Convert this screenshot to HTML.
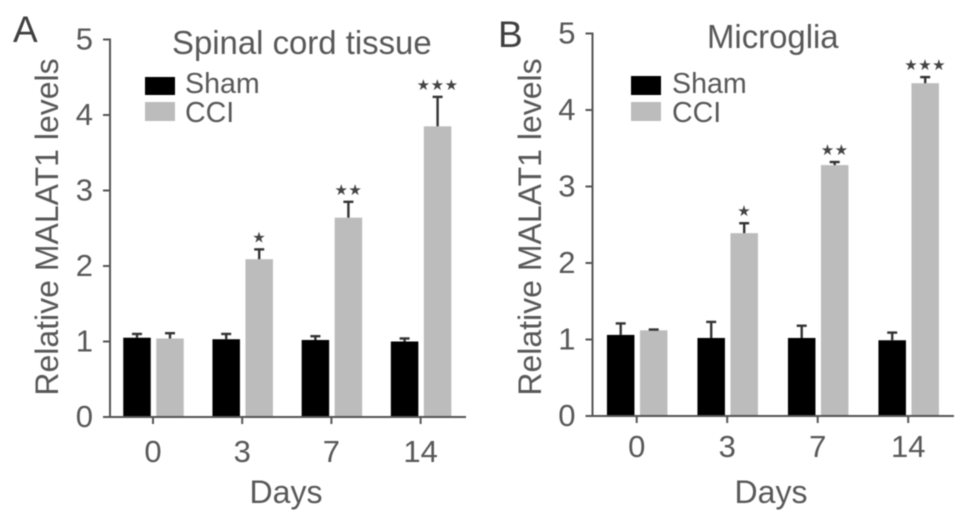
<!DOCTYPE html>
<html lang="en">
<head>
<meta charset="utf-8">
<title>Relative MALAT1 levels</title>
<style>
html,body{margin:0;padding:0;background:#fff;width:969px;height:522px;overflow:hidden}
svg{display:block;filter:blur(0.6px)}
text{font-family:"Liberation Sans",Arial,sans-serif;fill:#585858}
.stars{font-family:"DejaVu Sans",sans-serif;fill:#444}
</style>
</head>
<body>
<svg id="figure" width="969" height="522" viewBox="0 0 969 522" xmlns="http://www.w3.org/2000/svg">
  <rect width="969" height="522" fill="#fff"/>

  <g id="panel-a">
    <text x="13" y="42" font-size="37" style="fill:#404040">A</text>
    <text x="172" y="54" font-size="32.9">Spinal cord tissue</text>
    <text transform="translate(58,227) rotate(-90)" text-anchor="middle" font-size="32">Relative MALAT1 levels</text>
    <text x="286" y="503" text-anchor="middle" font-size="32">Days</text>
    <rect x="145" y="77" width="30" height="18" fill="#000"/>
    <rect x="145" y="102" width="30" height="19" fill="#bcbcbc"/>
    <text x="185" y="93" font-size="28.6">Sham</text>
    <text x="185" y="122" font-size="28.6">CCI</text>
  </g>

  <g id="panel-b">
    <text x="498" y="47" font-size="37" style="fill:#404040">B</text>
    <text x="707" y="48" font-size="32.9">Microglia</text>
    <text transform="translate(541,227) rotate(-90)" text-anchor="middle" font-size="32">Relative MALAT1 levels</text>
    <text x="771" y="503" text-anchor="middle" font-size="32">Days</text>
    <rect x="631" y="76" width="30" height="19" fill="#000"/>
    <rect x="631" y="102" width="30" height="19" fill="#bcbcbc"/>
    <text x="672" y="93" font-size="28.6">Sham</text>
    <text x="672" y="122" font-size="28.6">CCI</text>
  </g>
</svg>

<script>
var categories = ["0", "3", "7", "14"];
var yTickLabels = [0, 1, 2, 3, 4, 5];
var significance = ["", "★", "★★", "★★★"];

var shamA = [1.05, 1.03, 1.02, 1.00];
var shamErrA = [0.05, 0.07, 0.05, 0.04];
var cciA = [1.04, 2.09, 2.64, 3.85];
var cciErrA = [0.07, 0.13, 0.21, 0.39];

var shamB = [1.06, 1.02, 1.02, 0.99];
var shamErrB = [0.15, 0.21, 0.16, 0.10];
var cciB = [1.12, 2.39, 3.28, 4.35];
var cciErrB = [0.01, 0.13, 0.04, 0.08];

var SVG_NS = "http://www.w3.org/2000/svg";

function make(parent, tag, attrs) {
  var el = document.createElementNS(SVG_NS, tag);
  for (var k in attrs) { el.setAttribute(k, attrs[k]); }
  parent.appendChild(el);
  return el;
}

function drawPanel(id, layout, sham, shamErr, cci, cciErr) {
  var root = document.getElementById(id);
  function y(v) { return layout.y0 - v * layout.unit; }
  function x(i) { return layout.x0 + i * layout.step; }
  var barWidth = 27.5;
  var axisColor = "#555";

  function drawBar(value, err, center, color, name) {
    var bar = make(root, "rect", { x: center - barWidth / 2, y: y(value), width: barWidth, height: y(0) - y(value), fill: color });
    
    
    var stem = make(root, "line", { x1: center, x2: center, y1: y(value), y2: y(value + err), stroke: "#333", "stroke-width": 2.4 });
    
    
    var cap = make(root, "line", { x1: center - 5, x2: center + 5, y1: y(value + err), y2: y(value + err), stroke: "#333", "stroke-width": 2.4 });
    
    
  }

  categories.forEach(function (cat, i) {
    drawBar(sham[i], shamErr[i], x(i) - 16, "#000", id + "-sham-bar-day-" + cat);
    drawBar(cci[i], cciErr[i], x(i) + 17, "#bcbcbc", id + "-cci-bar-day-" + cat);
    if (significance[i]) {
      var star = make(root, "text", { x: x(i) + 17, y: y(cci[i] + cciErr[i]) - 7, "text-anchor": "middle", "font-size": 15, "letter-spacing": 0.5, "class": "stars" });
      
      
      star.textContent = significance[i];
    }
  });

  var yAxis = make(root, "line", { x1: layout.axisX, x2: layout.axisX, y1: y(5) - 1, y2: y(0), stroke: axisColor, "stroke-width": 2 });
  
  
  var xAxis = make(root, "line", { x1: layout.axisX - 7, x2: layout.axisEnd, y1: y(0), y2: y(0), stroke: axisColor, "stroke-width": 2 });
  
  

  yTickLabels.forEach(function (t) {
    var tick = make(root, "line", { x1: layout.axisX - 7, x2: layout.axisX, y1: y(t), y2: y(t), stroke: axisColor, "stroke-width": 2 });
    
    
    var label = make(root, "text", { x: layout.axisX - 17, y: y(t) + 10, "text-anchor": "end", "font-size": 31 });
    
    
    label.textContent = t;
  });

  categories.forEach(function (cat, i) {
    var tick = make(root, "line", { x1: x(i), x2: x(i), y1: y(0), y2: y(0) + 7, stroke: axisColor, "stroke-width": 2 });
    
    
    var label = make(root, "text", { x: x(i), y: layout.labelY, "text-anchor": "middle", "font-size": 31 });
    
    
    label.textContent = cat;
  });
}

drawPanel("panel-a", { x0: 153, step: 89.2, y0: 417, unit: 75.5, axisX: 110, axisEnd: 466, labelY: 462 }, shamA, shamErrA, cciA, cciErrA);
drawPanel("panel-b", { x0: 636.7, step: 90.5, y0: 416, unit: 76.5, axisX: 592.5, axisEnd: 954, labelY: 457 }, shamB, shamErrB, cciB, cciErrB);
</script>
</body>
</html>
